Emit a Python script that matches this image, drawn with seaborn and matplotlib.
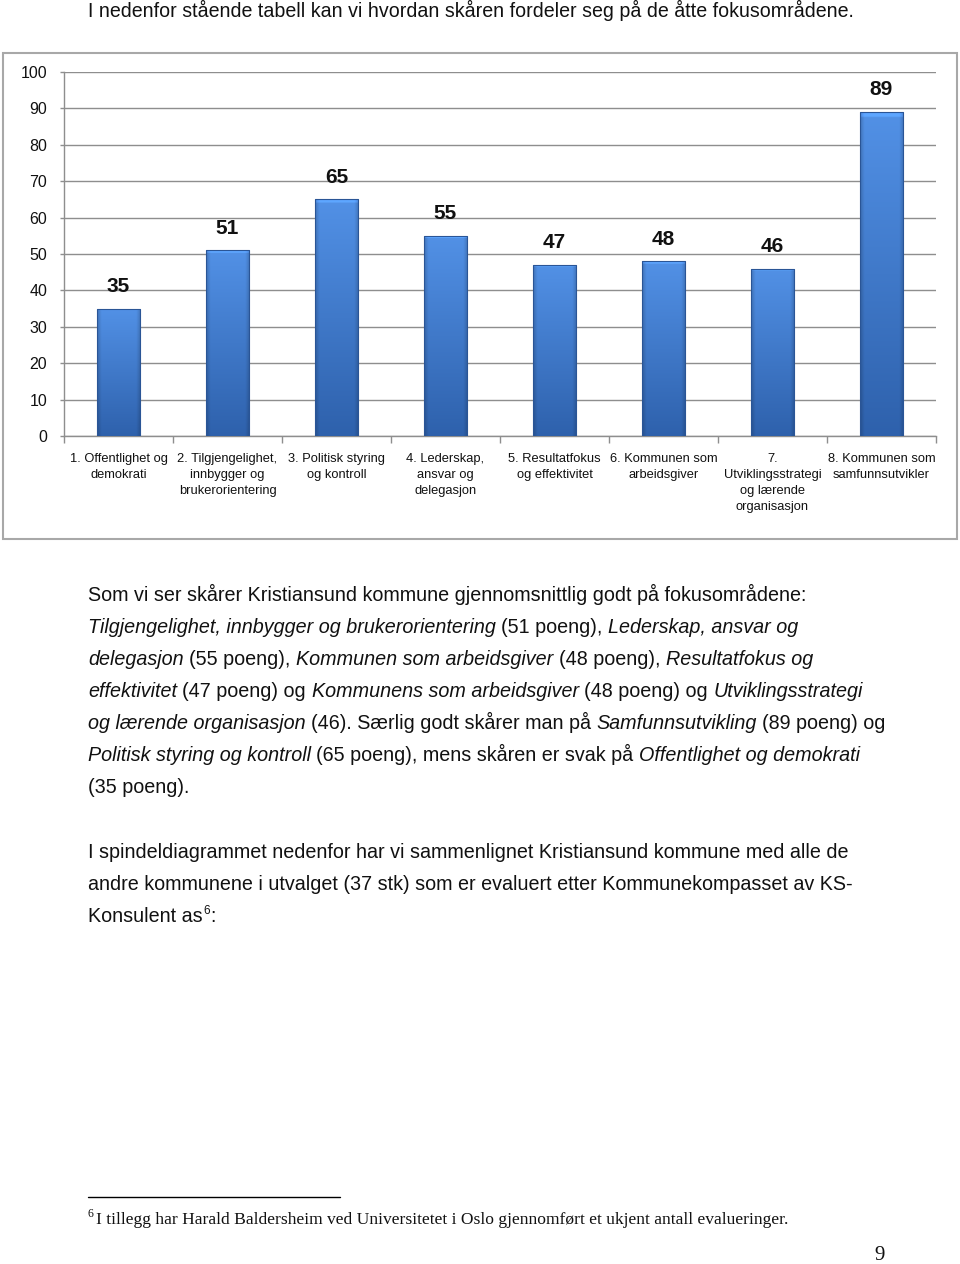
import numpy as np
import pandas as pd
import matplotlib
matplotlib.use("Agg")
import matplotlib.pyplot as plt
import seaborn as sns
from matplotlib.patches import Rectangle
from matplotlib.lines import Line2D

# ---------------- data ----------------
areas = ["1", "2", "3", "4", "5", "6", "7", "8"]
area_labels = [
    "1. Offentlighet og\ndemokrati",
    "2. Tilgjengelighet,\ninnbygger og\nbrukerorientering",
    "3. Politisk styring\nog kontroll",
    "4. Lederskap,\nansvar og\ndelegasjon",
    "5. Resultatfokus\nog effektivitet",
    "6. Kommunen som\narbeidsgiver",
    "7.\nUtviklingsstrategi\nog lærende\norganisasjon",
    "8. Kommunen som\nsamfunnsutvikler",
]
scores = [35, 51, 65, 55, 47, 48, 46, 89]
y_ticks = [0, 10, 20, 30, 40, 50, 60, 70, 80, 90, 100]

intro_text = "I nedenfor stående tabell kan vi hvordan skåren fordeler seg på de åtte fokusområdene."
body_lines = [
    [("Som vi ser skårer Kristiansund kommune gjennomsnittlig godt på fokusområdene:", "normal")],
    [("Tilgjengelighet, innbygger og brukerorientering", "italic"), (" (51 poeng), ", "normal"),
     ("Lederskap, ansvar og", "italic")],
    [("delegasjon", "italic"), (" (55 poeng), ", "normal"), ("Kommunen som arbeidsgiver", "italic"),
     (" (48 poeng), ", "normal"), ("Resultatfokus og", "italic")],
    [("effektivitet", "italic"), (" (47 poeng) og ", "normal"), ("Kommunens som arbeidsgiver", "italic"),
     (" (48 poeng) og ", "normal"), ("Utviklingsstrategi", "italic")],
    [("og lærende organisasjon", "italic"), (" (46). Særlig godt skårer man på ", "normal"),
     ("Samfunnsutvikling", "italic"), (" (89 poeng) og", "normal")],
    [("Politisk styring og kontroll", "italic"), (" (65 poeng), mens skåren er svak på ", "normal"),
     ("Offentlighet og demokrati", "italic")],
    [("(35 poeng).", "normal")],
]
body2_lines = [
    "I spindeldiagrammet nedenfor har vi sammenlignet Kristiansund kommune med alle de",
    "andre kommunene i utvalget (37 stk) som er evaluert etter Kommunekompasset av KS-",
    "Konsulent as",
]
footnote_mark = "6"
footnote_text = "I tillegg har Harald Baldersheim ved Universitetet i Oslo gjennomført et ukjent antall evalueringer."
page_number = "9"

# ---------------- setup ----------------
W, H = 960, 1264
sns.set_theme(style="white")
plt.rcParams['font.family'] = ['Liberation Sans', 'DejaVu Sans']
plt.rcParams['text.color'] = '#111111'

fig = plt.figure(figsize=(W / 100, H / 100), dpi=100)
fig.patch.set_facecolor('white')


def fx(x):
    return x / W


def fy(y):
    return 1 - y / H


# chart frame
fig.patches.append(Rectangle((fx(3), fy(539)), fx(957) - fx(3), fy(53) - fy(539),
                             transform=fig.transFigure, fill=False,
                             edgecolor='#A8A8A8', linewidth=1.5, zorder=0))

ax = fig.add_axes([fx(64), fy(436), fx(936) - fx(64), fy(72) - fy(436)])
df = pd.DataFrame({"omrade": areas, "score": scores})
sns.barplot(data=df, x="omrade", y="score", color="#3C74C4", width=0.4,
            saturation=1, ax=ax, zorder=3, errorbar=None)

# gradient fill for the bars
ny, nx = 200, 60
tv = np.linspace(0, 1, ny)[:, None]          # 0 bottom -> 1 top
top = np.array([82, 145, 230]) / 255
bot = np.array([46, 97, 172]) / 255
col = bot[None, None, :] * (1 - tv[..., None]) + top[None, None, :] * tv[..., None]
xs = np.linspace(-1, 1, nx)[None, :]
edge = 1 - 0.18 * np.clip((np.abs(xs) - 0.8) / 0.2, 0, 1)
img = np.clip(col * edge[..., None], 0, 1)
img = np.broadcast_to(img, (ny, nx, 3)).copy()
img[-3:, :, :] = np.clip(img[-3:, :, :] * 1.15, 0, 1)

for p in ax.patches:
    x0, y0, w, h = p.get_x(), p.get_y(), p.get_width(), p.get_height()
    im = ax.imshow(img, extent=[x0, x0 + w, y0, y0 + h], origin='lower',
                   aspect='auto', zorder=3.5, interpolation='bilinear')
    im.set_clip_path(p)
    p.set_facecolor('none')
    p.set_edgecolor('#2A5596')
    p.set_linewidth(0.8)
    p.set_zorder(4)

for p, v in zip(ax.patches, scores):
    ax.annotate(str(v), (p.get_x() + p.get_width() / 2, v), xytext=(0, 16),
                textcoords='offset points', ha='center', va='center',
                fontsize=15, fontweight='bold', color='#111111')

ax.set_xlim(-0.5, 7.5)
ax.set_ylim(0, 100)
ax.set_axisbelow(True)
ax.set_yticks(y_ticks)
ax.set_yticklabels([str(t) for t in y_ticks])
ax.yaxis.grid(True, color='#8E8E8E', linewidth=1)
ax.xaxis.grid(False)
ax.tick_params(axis='y', left=True, length=3, width=1, color='#8E8E8E', pad=9,
               labelsize=11.5, labelcolor='#111111')
ax.set_xticks(range(len(areas)))
ax.set_xticklabels(area_labels, fontsize=9.3, linespacing=1.45, color='#111111')
ax.tick_params(axis='x', which='major', bottom=False, length=0, pad=12)
ax.set_xticks(np.arange(-0.5, len(areas), 1), minor=True)
ax.tick_params(axis='x', which='minor', bottom=True, length=5, width=1, color='#8E8E8E')
for s in ['top', 'right']:
    ax.spines[s].set_visible(False)
for s in ['left', 'bottom']:
    ax.spines[s].set_color('#8E8E8E')
    ax.spines[s].set_linewidth(1)
ax.set_xlabel('')
ax.set_ylabel('')
ax.set_facecolor('none')

# ---------------- page text ----------------
renderer = fig.canvas.get_renderer()


def text_width(s, size, style='normal', family='Liberation Sans'):
    t = fig.text(0, 0, s, fontsize=size, fontstyle=style, family=family)
    w = t.get_window_extent(renderer).width
    t.remove()
    return w


def rich_line(x, y, segments, size, family='Liberation Sans'):
    sw = text_width("x x", size, family=family) - text_width("xx", size, family=family)
    cur = x
    for txt, style in segments:
        lead = len(txt) - len(txt.lstrip(' '))
        trail = len(txt) - len(txt.rstrip(' '))
        core = txt.strip(' ')
        cur += lead * sw
        t = fig.text(fx(cur), fy(y), core, fontsize=size, fontstyle=style,
                     family=family, va='baseline', ha='left', color='#111111')
        cur += t.get_window_extent(renderer).width
        cur += trail * sw
    return cur


BODY = 14.2
fig.text(fx(88), fy(17), intro_text, fontsize=14.1, va='baseline', ha='left')

base = 601
for i, segs in enumerate(body_lines):
    rich_line(88, base + 32 * i, segs, BODY)

base2 = 858
end = 0
for i, line in enumerate(body2_lines):
    t = fig.text(fx(88), fy(base2 + 32 * i), line, fontsize=BODY, va='baseline', ha='left')
    end = t.get_window_extent(renderer).x1
fig.text(fx(end + 1), fy(base2 + 64 - 8), footnote_mark, fontsize=8.5, va='baseline', ha='left')
fig.text(fx(end + 8), fy(base2 + 64), ":", fontsize=BODY, va='baseline', ha='left')

# footnote
fig.lines.append(Line2D([fx(88), fx(340)], [fy(1197), fy(1197)], transform=fig.transFigure,
                        color='black', linewidth=1))
fig.text(fx(88), fy(1217), footnote_mark, fontsize=8.5, family='Liberation Serif',
         va='baseline', ha='left')
fig.text(fx(96), fy(1224), footnote_text, fontsize=12.6, family='Liberation Serif',
         va='baseline', ha='left')
fig.text(fx(880), fy(1260), page_number, fontsize=15, family='Liberation Serif',
         va='baseline', ha='center')

fig.savefig("out.png", dpi=100, facecolor='white')
